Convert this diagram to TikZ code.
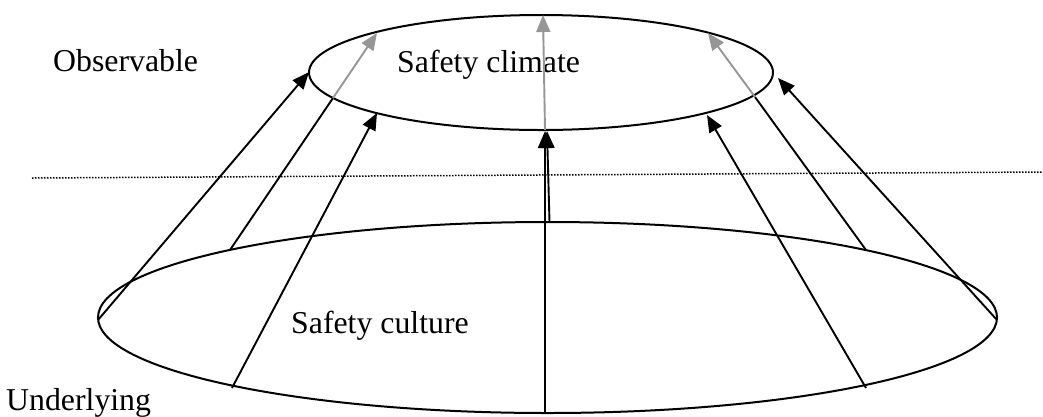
\documentclass[tikz,border=0pt]{standalone}
\usepackage{fontspec}
\setmainfont{Liberation Serif}
\usetikzlibrary{shapes.geometric,arrows.meta}
\definecolor{arrowgrey}{RGB}{150,150,150}
\begin{document}
\begin{tikzpicture}[x=1pt,y=-1pt,
  rim/.style={draw, ellipse, line width=2pt, inner sep=0pt, outer sep=0pt},
  link/.style={line width=1.9pt, -{Triangle[length=17pt,width=14pt]}},
  plain/.style={line width=1.9pt},
  faint/.style={line width=1.9pt, draw=arrowgrey, -{Triangle[length=17pt,width=14pt]}},
  lbl/.style={font=\fontsize{31.8}{36}\selectfont, inner sep=0pt, anchor=base west}]
\useasboundingbox (0,0) rectangle (1043,416);

% the two levels
\node[rim, minimum width=464pt, minimum height=115pt] (climate) at (541,72.5) {};
\node[rim, minimum width=899pt, minimum height=191pt] (culture) at (547.5,317.5) {};

% boundary between observable and underlying
\coordinate (divL) at (32,178);
\coordinate (divR) at (1043,172);
\draw[line width=1.5pt, dash pattern=on 1.5pt off 1.5pt] (divL) -- (divR);

% labels
\node[lbl] (obs) at (53,71) {Observable};
\node[lbl] (climtext) at (397,72) {Safety climate};
\node[lbl] (culttext) at (291,333) {Safety culture};
\node[lbl] (under) at (6,410) {Underlying};

% end points on the culture ellipse
\coordinate (cL) at (98,320);
\coordinate (cUL) at (230,250);
\coordinate (cLL) at (232,388);
\coordinate (cR) at (997,320);
\coordinate (cUR) at (866,250);
\coordinate (cLR) at (866,388);
\coordinate (cTop) at (549.5,222);
\coordinate (cBot) at (545,413);

% end points on the climate ellipse
\coordinate (tL) at (309,72);
\coordinate (tLL) at (377,113);
\coordinate (tR) at (778,78);
\coordinate (tLR) at (707,115);
\coordinate (tBot) at (545,131);
\coordinate (tBot2) at (547,131);
\coordinate (eUL) at (333,98);
\coordinate (eUR) at (755,97);
\coordinate (eBot) at (545,130);

% grey arrow tips inside the climate ellipse
\coordinate (gL) at (377,33);
\coordinate (gR) at (708,33);
\coordinate (gC) at (543,15);

% black links from culture to climate
\draw[link] (cL) -- (tL);
\draw[link] (cLL) -- (tLL);
\draw[link] (cR) -- (tR);
\draw[link] (cLR) -- (tLR);
\draw[link] (cBot) -- (tBot);
\draw[link] (cTop) -- (tBot2);
\draw[plain] (cUL) -- (eUL);
\draw[plain] (cUR) -- (eUR);

% grey continuations into the climate
\draw[faint] (eUL) -- (gL);
\draw[faint] (eUR) -- (gR);
\draw[faint] (eBot) -- (gC);
\end{tikzpicture}
\end{document}
